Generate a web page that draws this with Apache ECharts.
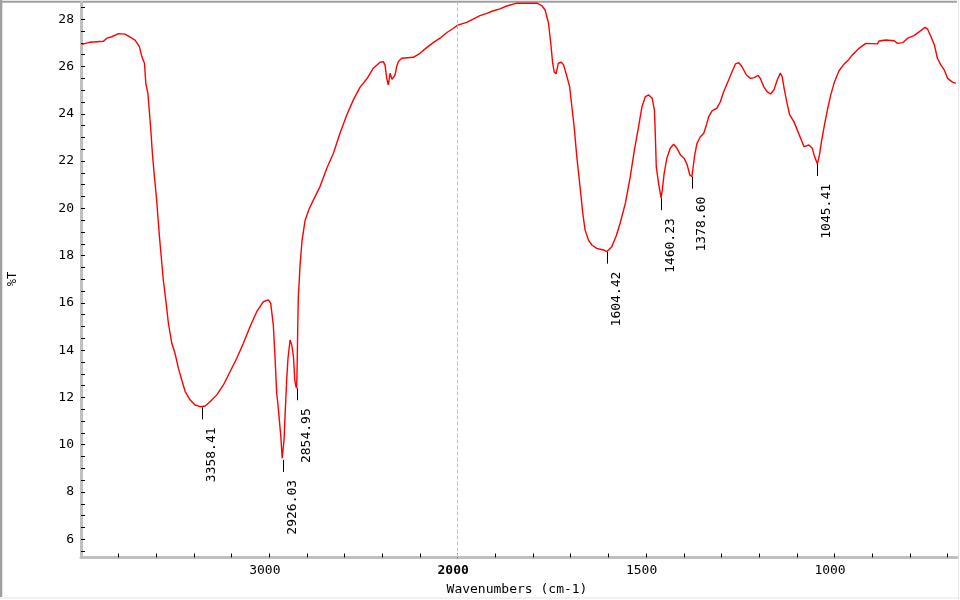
<!DOCTYPE html>
<html><head><meta charset="utf-8">
<script src="https://cdn.jsdelivr.net/npm/echarts@6/dist/echarts.min.js"></script>
<style>html,body{margin:0;padding:0;background:#fff}#c{width:960px;height:600px}</style>
</head><body><div id="c"></div>
<script>
// ---- data ----
const wavenumbers = [
  3996, 3952, 3881, 3863, 3837, 3801, 3766, 3739, 3713, 3690, 3677, 3663, 3656, 3645, 3639, 3630, 3621, 3612, 3600,
  3583, 3563, 3548, 3536, 3518, 3501, 3483, 3465, 3447, 3421, 3394, 3368, 3358.41, 3341, 3315, 3279, 3244, 3209,
  3173, 3138, 3102, 3067, 3032, 3005, 2993, 2979, 2970, 2961, 2955, 2947, 2939, 2932, 2926.03, 2922, 2916, 2908,
  2901, 2890, 2881, 2872, 2865, 2860, 2854.95, 2852, 2849, 2846, 2841, 2837, 2826, 2810, 2790, 2766, 2731, 2695,
  2660, 2625, 2589, 2554, 2519, 2483, 2448, 2412, 2395, 2386, 2377, 2368, 2359, 2354, 2349, 2333, 2324, 2315, 2297,
  2236, 2200, 2165, 2130, 2094, 2059, 2023, 2000,
  1976, 1959, 1941, 1923, 1905, 1888, 1870, 1843, 1790, 1777, 1768, 1759, 1753, 1748, 1744, 1739, 1733, 1725, 1719,
  1710, 1703, 1697, 1691, 1684, 1675, 1668, 1662, 1653, 1644, 1631, 1613, 1604.42, 1591, 1579, 1569, 1555, 1542,
  1531, 1520, 1511, 1502, 1493, 1484, 1478, 1476, 1473, 1467, 1460.23, 1457, 1452, 1445, 1436, 1427, 1418, 1409,
  1399, 1391, 1384, 1378.60, 1375, 1371, 1365, 1356, 1347, 1340, 1334, 1325, 1312, 1303, 1294, 1281, 1272, 1263,
  1254, 1246, 1234, 1223, 1213, 1203, 1197, 1188, 1179, 1170, 1161, 1152, 1144, 1139, 1133, 1126, 1119, 1108, 1099,
  1090, 1081, 1068, 1059, 1053, 1045.41, 1040, 1034, 1026, 1019, 1010, 1000, 988, 975, 962, 953, 935, 917, 886, 882,
  864, 842, 833, 819, 806, 789, 771, 760, 753, 744, 735, 727, 718, 709, 700, 687, 678
];
const transmittance = [
  26.94, 27.03, 27.07, 27.20, 27.26, 27.39, 27.37, 27.24, 27.12, 26.84, 26.42, 26.14, 25.29, 24.87, 24.30, 23.39, 22.33, 21.49, 20.50,
  18.75, 16.97, 15.99, 15.14, 14.29, 13.87, 13.24, 12.74, 12.25, 11.90, 11.68, 11.61, 11.58, 11.64, 11.82, 12.11, 12.53, 13.09,
  13.66, 14.29, 15.00, 15.63, 16.05, 16.13, 15.99, 15.07, 13.73, 12.18, 11.76, 11.05, 10.34, 9.43, 9.36, 10.20, 11.33, 12.74,
  13.66, 14.43, 14.22, 13.73, 12.74, 12.50, 12.39, 13.50, 15.10, 16.27, 16.97, 17.60, 18.67, 19.50, 19.95, 20.36, 20.92, 21.70,
  22.33, 23.18, 23.95, 24.59, 25.12, 25.47, 25.93, 26.18, 26.21, 26.07, 25.50, 25.22, 25.72, 25.78, 25.46, 25.64, 26.00, 26.21, 26.35,
  26.39, 26.56, 26.80, 27.01, 27.20, 27.43, 27.62, 27.75,
  27.87, 28.01, 28.15, 28.25, 28.36, 28.44, 28.56, 28.68, 28.68, 28.58, 28.39, 27.83, 26.98, 26.14, 25.78, 25.69, 26.14, 26.18, 26.07,
  25.57, 25.15, 24.30, 23.46, 22.20, 20.85, 19.79, 19.09, 18.66, 18.45, 18.31, 18.24, 18.17, 18.38, 18.85, 19.37, 20.22, 21.34,
  22.47, 23.46, 24.30, 24.73, 24.80, 24.66, 24.16, 23.32, 21.76, 21.06, 20.43, 20.78, 21.49, 22.12, 22.54, 22.71, 22.54, 22.26,
  22.12, 21.84, 21.41, 21.34, 21.76, 22.26, 22.75, 23.03, 23.18, 23.53, 23.88, 24.12, 24.24, 24.51, 24.94, 25.43, 25.78, 26.11,
  26.16, 26.00, 25.64, 25.50, 25.53, 25.63, 25.50, 25.15, 24.94, 24.84, 25.01, 25.43, 25.72, 25.57, 25.01, 24.45, 23.95, 23.67, 23.32,
  22.97, 22.61, 22.68, 22.54, 22.19, 21.88, 22.26, 22.89, 23.60, 24.16, 24.80, 25.36, 25.82, 26.10, 26.30, 26.49, 26.77, 26.98, 26.96, 27.08,
  27.12, 27.09, 26.98, 27.01, 27.20, 27.31, 27.52, 27.66, 27.58, 27.26, 26.91, 26.35, 26.07, 25.86, 25.50, 25.34, 25.29
];
const peakWavenumbers = [3358.41, 2926.03, 2854.95, 1604.42, 1460.23, 1378.60, 1045.41];
const peakTransmittance = [11.58, 9.36, 12.39, 18.17, 20.43, 21.34, 21.88];
const peakLabels = ['3358.41', '2926.03', '2854.95', '1604.42', '1460.23', '1378.60', '1045.41'];

const xLabelsHigh = [3000];
const xLabelsLow = [2000, 1500, 1000];
const xTicksHigh = [2000, 2200, 2400, 2600, 2800, 3000, 3200, 3400, 3600, 3800];
const xTicksLow = [700, 800, 900, 1000, 1100, 1200, 1300, 1400, 1500, 1600, 1700, 1800, 1900, 2000];
const yLabels = [6, 8, 10, 12, 14, 16, 18, 20, 22, 24, 26, 28];
const yTicks = [5.5, 6, 6.5, 7, 7.5, 8, 8.5, 9, 9.5, 10, 10.5, 11, 11.5, 12, 12.5, 13, 13.5, 14, 14.5, 15, 15.5, 16, 16.5,
  17, 17.5, 18, 18.5, 19, 19.5, 20, 20.5, 21, 21.5, 22, 22.5, 23, 23.5, 24, 24.5, 25, 25.5, 26, 26.5, 27, 27.5, 28, 28.5];

const X_BREAK = 2000, X_MAX = 4000, X_MIN = 675;
const Y_MIN = 5.23, Y_MAX = 28.73;

// ---- build ----
const FONT = '"DejaVu Sans Mono", monospace';
const pts = wavenumbers.map((w, i) => [w, transmittance[i]]);
const highData = pts.filter(p => p[0] >= X_BREAK);
const lowData = pts.filter(p => p[0] <= X_BREAK);
const peaks = peakWavenumbers.map((w, i) => [w, peakTransmittance[i], peakLabels[i]]);
const peaksHigh = peaks.filter(p => p[0] >= X_BREAK);
const peaksLow = peaks.filter(p => p[0] < X_BREAK);

const axisLineStyle = { color: '#c0c0c0', width: 3 };
const tickStyle = { color: '#000', width: 1 };

function xAxis(idx, min, max, ticks, labels) {
  return {
    type: 'value', gridIndex: idx, min: min, max: max, inverse: true,
    axisLine: { show: true, onZero: false, lineStyle: axisLineStyle },
    axisTick: { show: true, inside: true, length: 4, lineStyle: tickStyle, customValues: ticks },
    axisLabel: {
      show: true, customValues: labels, margin: 7, color: '#000', fontFamily: FONT, fontSize: 13,
      padding: [0, 9, 0, 0],
      formatter: v => v === X_BREAK ? '{b|' + v + '}' : String(v),
      rich: { b: { fontWeight: 'bold', fontFamily: FONT, fontSize: 13, color: '#000', padding: [0, 0, 0, 0] } }
    },
    splitLine: { show: false }
  };
}
function yAxis(idx, show) {
  return {
    type: 'value', gridIndex: idx, min: Y_MIN, max: Y_MAX, show: show,
    axisLine: { show: show, lineStyle: axisLineStyle },
    axisTick: { show: show, inside: true, length: 4, lineStyle: tickStyle, customValues: yTicks },
    axisLabel: { show: show, customValues: yLabels, margin: 7, color: '#000', fontFamily: FONT, fontSize: 13 },
    splitLine: { show: false }
  };
}
function lineSeries(idx, data, extra) {
  return Object.assign({
    type: 'line', xAxisIndex: idx, yAxisIndex: idx, data: data, showSymbol: false, symbol: 'none',
    lineStyle: { color: '#ff0000', width: 1.4 }, animation: false, silent: true, clip: true
  }, extra || {});
}
function peakSeries(idx, data) {
  return {
    type: 'custom', xAxisIndex: idx, yAxisIndex: idx, data: data, clip: false, silent: true, animation: false,
    renderItem: (params, api) => {
      const p = api.coord([api.value(0), api.value(1)]);
      const label = data[params.dataIndex][2];
      return {
        type: 'group', children: [
          { type: 'line', shape: { x1: Math.round(p[0]) + 0.5, y1: p[1], x2: Math.round(p[0]) + 0.5, y2: p[1] + 12 },
            style: { stroke: '#000', lineWidth: 1 } },
          { type: 'text', x: p[0] + 3, y: p[1] + 20, rotation: Math.PI / 2,
            style: { text: label, font: '13px ' + FONT, fill: '#000', align: 'right', verticalAlign: 'top' } }
        ]
      };
    }
  };
}

const chart = echarts.init(document.getElementById('c'), null, { renderer: 'canvas' });
chart.setOption({
  animation: false,
  backgroundColor: '#fff',
  grid: [
    { left: 81, top: 2, width: 376.7, bottom: 42.5 },
    { left: 457.7, top: 2, width: 499.3, bottom: 42.5 }
  ],
  xAxis: [xAxis(0, X_BREAK, X_MAX, xTicksHigh, xLabelsHigh), xAxis(1, X_MIN, X_BREAK, xTicksLow, xLabelsLow)],
  yAxis: [yAxis(0, true), yAxis(1, false)],
  series: [
    lineSeries(0, highData),
    lineSeries(1, lowData, {
      markLine: {
        silent: true, symbol: ['none', 'none'], label: { show: false }, animation: false,
        lineStyle: { color: '#c0c0c0', type: [4, 2], width: 1 },
        data: [{ xAxis: X_BREAK }]
      }
    }),
    peakSeries(0, peaksHigh),
    peakSeries(1, peaksLow)
  ],
  graphic: [
    { type: 'rect', shape: { x: 0, y: 0, width: 2.3, height: 597 }, style: { fill: '#a0a0a0' }, silent: true },
    { type: 'rect', shape: { x: 0, y: 0.8, width: 957, height: 2 }, style: { fill: '#a0a0a0' }, silent: true },
    { type: 'rect', shape: { x: 958, y: 0, width: 1, height: 599 }, style: { fill: '#e4e4e4' }, silent: true },
    { type: 'rect', shape: { x: 0, y: 597.5, width: 959, height: 1 }, style: { fill: '#e4e4e4' }, silent: true },
    { type: 'text', x: 517, y: 590, style: { text: 'Wavenumbers (cm-1)', font: '13px ' + FONT, fill: '#000', align: 'center', verticalAlign: 'middle' }, silent: true },
    { type: 'text', x: 13, y: 279, rotation: Math.PI / 2, style: { text: '%T', font: '12px ' + FONT, fill: '#000', align: 'center', verticalAlign: 'middle' }, silent: true }
  ]
});
</script>
</body></html>
